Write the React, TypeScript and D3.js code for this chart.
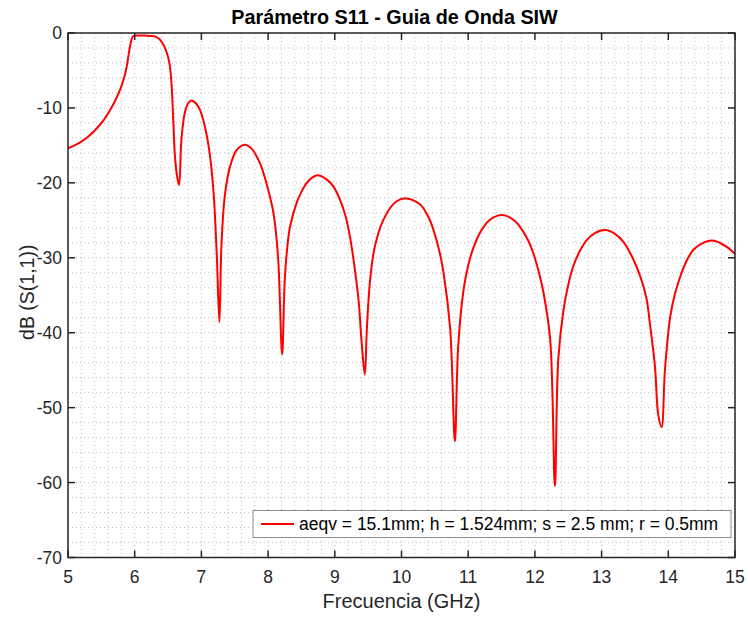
import React from "react";
import * as d3 from "d3";

const freqGHz = [5.0, 5.2, 5.38, 5.52, 5.63, 5.72, 5.78, 5.84, 5.88, 5.93, 5.97, 6.0, 6.15, 6.3, 6.37, 6.42, 6.48, 6.52, 6.55, 6.58, 6.6, 6.63, 6.665, 6.7, 6.75, 6.8, 6.85, 6.92, 6.98, 7.05, 7.12, 7.18, 7.23, 7.27, 7.3, 7.35, 7.43, 7.53, 7.65, 7.75, 7.83, 7.88, 7.92, 7.98, 8.08, 8.15, 8.21, 8.25, 8.29, 8.33, 8.43, 8.5, 8.58, 8.66, 8.75, 8.9, 8.98, 9.08, 9.16, 9.23, 9.3, 9.36, 9.4, 9.45, 9.48, 9.53, 9.6, 9.73, 9.88, 9.98, 10.08, 10.28, 10.4, 10.48, 10.57, 10.63, 10.73, 10.8, 10.85, 10.93, 11.0, 11.08, 11.18, 11.28, 11.38, 11.5, 11.6, 11.7, 11.78, 11.9, 11.98, 12.07, 12.13, 12.23, 12.3, 12.35, 12.43, 12.5, 12.58, 12.68, 12.78, 12.9, 13.05, 13.2, 13.33, 13.47, 13.58, 13.67, 13.73, 13.8, 13.85, 13.9, 13.95, 14.03, 14.1, 14.18, 14.28, 14.38, 14.5, 14.66, 14.87, 15.0];
const s11dB = [-15.4, -14.5, -13.2, -11.8, -10.3, -8.8, -7.6, -6.0, -4.5, -1.8, -0.5, -0.35, -0.35, -0.45, -0.8, -1.4, -2.6, -4.0, -6.5, -12.0, -16.0, -18.8, -20.3, -14.3, -10.7, -9.4, -9.0, -9.4, -10.3, -12.4, -15.8, -21.0, -29.5, -38.6, -28.5, -21.8, -17.8, -15.6, -14.9, -15.4, -16.5, -17.4, -18.4, -20.2, -24.0, -30.0, -42.9, -32.9, -28.4, -25.8, -22.6, -21.2, -20.0, -19.3, -19.0, -19.7, -20.5, -22.3, -24.4, -27.3, -31.5, -36.0, -41.0, -45.6, -39.6, -32.9, -28.5, -24.9, -22.8, -22.2, -22.1, -22.9, -24.5, -26.3, -29.2, -32.0, -39.5, -54.5, -41.8, -34.3, -31.0, -28.6, -26.6, -25.3, -24.6, -24.3, -24.5, -25.1, -25.9, -27.7, -29.5, -32.3, -34.7, -41.0, -60.5, -43.6, -36.9, -33.6, -31.0, -29.0, -27.6, -26.7, -26.3, -26.8, -27.9, -30.1, -32.5, -35.3, -39.2, -44.5, -51.0, -52.6, -44.9, -37.8, -34.8, -32.5, -30.3, -28.9, -28.1, -27.7, -28.5, -29.5];

const xTicks = [5, 6, 7, 8, 9, 10, 11, 12, 13, 14, 15];
const yTicks = [0, -10, -20, -30, -40, -50, -60, -70];
const titleText = "Parámetro S11 - Guia de Onda SIW";
const xLabelText = "Frecuencia (GHz)";
const yLabelText = "dB (S(1,1))";
const legendText = "aeqv = 15.1mm; h = 1.524mm; s = 2.5 mm; r = 0.5mm";

export default function App() {
  const W = 748, H = 619;
  const L = 68, R = 735, T = 33, B = 557.5;
  const x = d3.scaleLinear().domain([5, 15]).range([L, R]);
  const y = d3.scaleLinear().domain([-70, 0]).range([B, T]);
  const data = freqGHz.map((f, i) => [f, s11dB[i]] as [number, number]);
  const line = d3.line<[number, number]>().x(d => x(d[0])).y(d => y(d[1])).curve(d3.curveCatmullRom.alpha(0.5));
  const gx = d3.range(5, 15.0001, 0.2);
  const gy = d3.range(-70, 0.0001, 2);
  const font = "'Liberation Sans', Arial, Helvetica, sans-serif";
  const axisColor = "#262626";
  return (
    <svg width={W} height={H} style={{ position: "absolute", left: 0, top: 0, background: "#fff" }} fontFamily={font}>
      <rect x={0} y={0} width={W} height={H} fill="#fff" />
      <defs>
        <clipPath id="plotclip">
          <rect x={L} y={T} width={R - L} height={B - T} />
        </clipPath>
      </defs>
      <g>
        {gx.map((v, i) => (
          <line key={"gx" + i} x1={x(v)} x2={x(v)} y1={T} y2={B} stroke="#bdbdbd" strokeWidth={1} strokeDasharray="1,3" />
        ))}
        {gy.map((v, i) => (
          <line key={"gy" + i} x1={L} x2={R} y1={y(v)} y2={y(v)} stroke="#bdbdbd" strokeWidth={1} strokeDasharray="1,3" />
        ))}
      </g>
      <path d={line(data) || ""} fill="none" stroke="#ff0000" strokeWidth={2} strokeLinejoin="round" clipPath="url(#plotclip)" />
      <rect x={L} y={T} width={R - L} height={B - T} fill="none" stroke={axisColor} strokeWidth={1.5} />
      {xTicks.map((t) => (
        <g key={"xt" + t}>
          <line x1={x(t)} x2={x(t)} y1={B} y2={B - 7} stroke={axisColor} strokeWidth={1.5} />
          <line x1={x(t)} x2={x(t)} y1={T} y2={T + 7} stroke={axisColor} strokeWidth={1.5} />
          <text x={x(t)} y={B + 25.5} textAnchor="middle" fontSize={17.5} fill={axisColor}>{t}</text>
        </g>
      ))}
      {yTicks.map((t) => (
        <g key={"yt" + t}>
          <line x1={L} x2={L + 7} y1={y(t)} y2={y(t)} stroke={axisColor} strokeWidth={1.5} />
          <line x1={R} x2={R - 7} y1={y(t)} y2={y(t)} stroke={axisColor} strokeWidth={1.5} />
          <text x={L - 6} y={y(t) + 6} textAnchor="end" fontSize={17.5} fill={axisColor}>{t}</text>
        </g>
      ))}
      <text x={(L + R) / 2 - 7} y={24} textAnchor="middle" fontSize={19.8} fontWeight="bold" fill="#000">{titleText}</text>
      <text x={(L + R) / 2} y={608} textAnchor="middle" fontSize={20} fill={axisColor}>{xLabelText}</text>
      <text transform={`translate(34, ${(T + B) / 2 - 3}) rotate(-90)`} textAnchor="middle" fontSize={19.5} fill={axisColor}>{yLabelText}</text>
      <g>
        <rect x={253} y={510.5} width={478} height={27} fill="#fff" stroke="#8c8c8c" strokeWidth={1} />
        <line x1={261} x2={294} y1={524} y2={524} stroke="#ff0000" strokeWidth={2} />
        <text x={299} y={530} fontSize={17.5} fill="#000">{legendText}</text>
      </g>
    </svg>
  );
}
